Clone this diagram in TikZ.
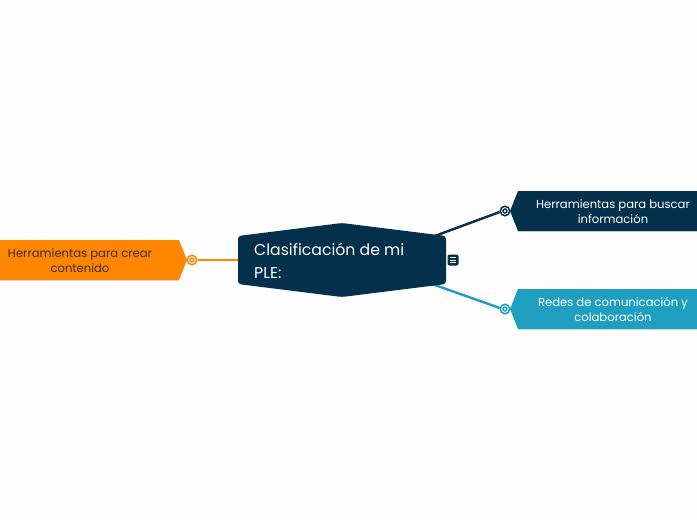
\documentclass[tikz,border=0pt]{standalone}
\usepackage{fontspec}
\setmainfont{Poppins}
\usetikzlibrary{calc}
\definecolor{navy}{HTML}{03304A}
\definecolor{teal}{HTML}{1F9FC0}
\definecolor{amber}{HTML}{FF8600}
\definecolor{paper}{HTML}{FDFDFD}
\definecolor{ink}{HTML}{3B2E1E}

\begin{document}
\begin{tikzpicture}[x=1pt,y=-1pt,
  label/.style={align=center,font=\fontsize{11.6}{15}\selectfont,inner sep=0pt},
  ring/.style={circle,draw=#1,fill=paper,line width=1.5pt,minimum size=9.5pt,inner sep=0pt},
  dot/.style={circle,draw=#1,line width=1.4pt,minimum size=4pt,inner sep=0pt},
  link/.style={line width=2.4pt},
  drop/.style={draw=black!#1,line width=1.2pt,opacity=.3}]
\useasboundingbox (0,0) rectangle (697,520);
\fill[paper] (0,0) rectangle (697,520);
% links first, the shapes go on top
\coordinate (rootne) at (432,237);
\coordinate (rootse) at (432,284);
\coordinate (rootw) at (240,260);
\node[ring=navy] (ringtop) at (505,211) {};
\node[ring=teal] (ringbot) at (505,309) {};
\node[ring=amber] (ringleft) at (192,260) {};
\draw[link,navy] (rootne) -- (497,213) .. controls (498,212.5) and (499,212) .. (ringtop);
\draw[link,teal] (rootse) -- (497,307) .. controls (498,307.5) and (499,308) .. (ringbot);
\draw[link,amber] (ringleft) -- (rootw);
\node[dot=navy] (dottop) at (ringtop) {};
\node[dot=teal] (dotbot) at (ringbot) {};
\node[dot=amber] (dotleft) at (ringleft) {};
% central shape
\fill[navy,rounded corners=3pt] (238,236) -- (342,223) -- (446,236) -- (446,284) -- (342,297) -- (238,284) -- cycle;
\node[anchor=west,align=left,inner sep=0pt,text=white,font=\fontsize{15.7}{23}\selectfont] (root) at (254,261) {Clasificación de mi\\PLE:};
% branches
\draw[drop=40] (0,280.5) -- (179,280.5);
\fill[amber] (0,240) -- (179,240) -- (187,260) -- (179,280) -- (0,280) -- cycle;
\node[label,text=ink] (create) at (80,260.5) {Herramientas para crear\\contenido};
\draw[drop=40] (518,231.5) -- (697,231.5);
\fill[navy] (697,191) -- (518,191) -- (510,211) -- (518,231) -- (697,231) -- cycle;
\node[label,text=white] (search) at (613,211.5) {Herramientas para buscar\\información};
\draw[drop=40] (518,329.5) -- (697,329.5);
\fill[teal] (697,289) -- (518,289) -- (510,309) -- (518,329) -- (697,329) -- cycle;
\node[label,text=white] (network) at (613,309.5) {Redes de comunicación y\\colaboración};
% note icon
\node[fill=navy,rounded corners=2pt,minimum size=11pt,inner sep=0pt] (note) at (453,260) {};
\foreach \y in {-2.5,0,2.5}
  \draw[white,line width=.9pt] ($(note)+(-3,\y)$) -- ($(note)+(3,\y)$);
\end{tikzpicture}
\end{document}
